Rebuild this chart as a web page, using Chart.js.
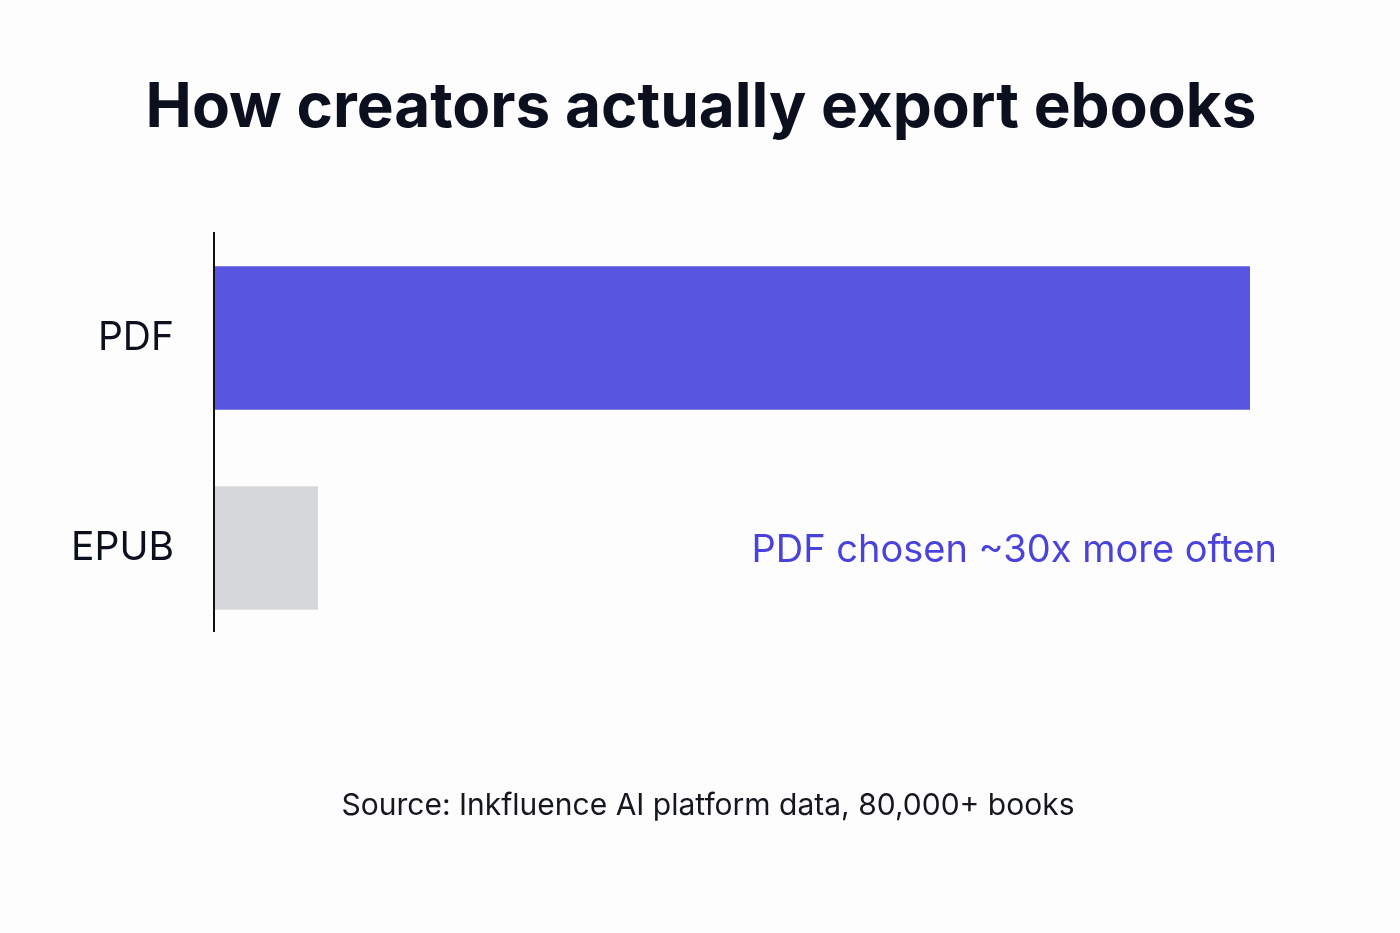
<!DOCTYPE html>
<html>
<head>
<meta charset="utf-8">
<script src="https://cdn.jsdelivr.net/npm/chart.js@4.4.1/dist/chart.umd.min.js"></script>
<style>
  html, body { margin: 0; padding: 0; background: #fdfdfd; }
  #wrap { width: 1400px; height: 933px; position: relative; }
</style>
</head>
<body>
<div id="wrap"><canvas id="exportChart"></canvas></div>
<script>
// data
var formats = ['PDF', 'EPUB'];
var pdfShare = [100, null];
var epubShare = [null, 10];
var chartTitle = 'How creators actually export ebooks';
var calloutText = 'PDF chosen ~30x more often';
var sourceText = 'Source: Inkfluence AI platform data, 80,000+ books';

var textPlugin = {
  id: 'textPlugin',
  afterDraw: function(chart) {
    var ctx = chart.ctx;
    var area = chart.chartArea;
    var y = chart.scales.y;
    ctx.save();
    ctx.textBaseline = 'middle';

    ctx.fillStyle = '#0c0f1e';
    ctx.textAlign = 'center';
    ctx.font = '700 62px Inter';
    ctx.fillText(chartTitle, 701, 108);

    ctx.font = '400 30px Inter';
    ctx.fillStyle = '#15171f';
    ctx.fillText(sourceText, 708, 806);

    // callout next to EPUB row
    ctx.font = '400 38px Inter';
    ctx.fillStyle = '#4a43db';
    ctx.textAlign = 'right';
    ctx.fillText(calloutText, area.right + 27, y.getPixelForValue(1) + 3);

    // axis line
    ctx.strokeStyle = '#111';
    ctx.lineWidth = 2;
    ctx.beginPath();
    ctx.moveTo(area.left, area.top - 1);
    ctx.lineTo(area.left, area.bottom - 21);
    ctx.stroke();
    ctx.restore();
  }
};

var ctx = document.getElementById('exportChart').getContext('2d');
var myChart = new Chart(ctx, {
  type: 'bar',
  data: {
    labels: formats,
    datasets: [{
      label: 'PDF',
      data: pdfShare,
      backgroundColor: '#5855e0',
      barThickness: 143,
      grouped: false
    }, {
      label: 'EPUB',
      data: epubShare,
      backgroundColor: '#d5d7da',
      barThickness: 123,
      grouped: false
    }]
  },
  options: {
    indexAxis: 'y',
    responsive: true,
    maintainAspectRatio: false,
    animation: false,
    layout: { padding: { top: 233, bottom: 280, left: 0, right: 150 } },
    plugins: { legend: { display: false }, tooltip: { enabled: false }, title: { display: false } },
    scales: {
      x: { display: false, min: 0, max: 100 },
      y: {
        grid: { display: false, drawTicks: false },
        border: { display: false },
        ticks: { padding: 40, color: '#0c0f1e', font: { family: 'Inter', size: 39 } },
        afterFit: function(s) { s.width = 214; }
      }
    }
  },
  plugins: [textPlugin]
});
</script>
</body>
</html>
